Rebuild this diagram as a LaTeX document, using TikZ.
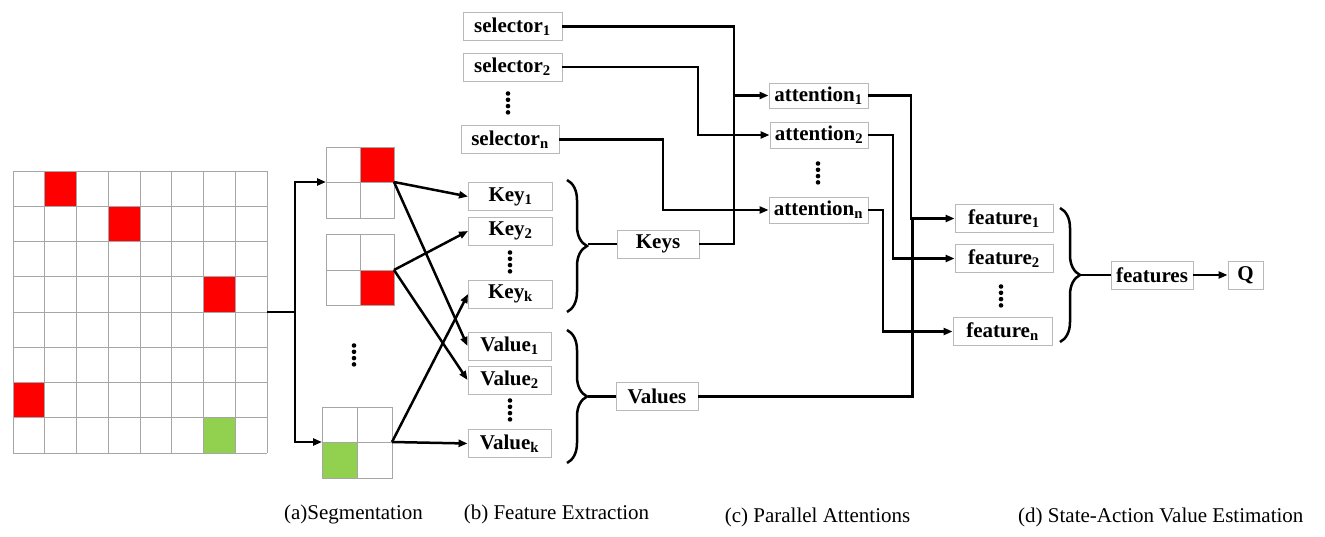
\documentclass[tikz,border=0pt]{standalone}
\usepackage{fontspec}
\setmainfont{Liberation Serif}
\usetikzlibrary{arrows.meta,decorations.pathreplacing}
\definecolor{lgreen}{HTML}{92D050}
\begin{document}
\begin{tikzpicture}[x=1pt,y=-1pt,
 box/.style={draw=gray!55, line width=0.9pt, inner sep=0pt, minimum height=28pt, font=\fontsize{21}{21}\selectfont\bfseries},
 wire/.style={line width=2.5pt, -{Triangle[length=9pt,width=7pt]}},
 plain/.style={line width=2.5pt},
 cell/.style={draw=gray!70, line width=0.6pt},
 brc/.style={decorate, decoration={brace, amplitude=20pt, aspect=0.5}, line width=2.5pt},
 lab/.style={font=\fontsize{21}{24}\selectfont, inner sep=0pt},
 fourdots/.pic={\foreach \k in {0,1,2,3} \fill (0,\k*6.3-9.5) circle (2.3pt);}
]
\useasboundingbox (0,0) rectangle (1325,537);

% ---- grid ----
\foreach \c/\r in {1/0,3/1,6/3,0/6}
  \fill[red] (13+\c*31.75,171+\r*35.25) rectangle ++(31.75,35.25);
\fill[lgreen] (13+6*31.75,171+7*35.25) rectangle ++(31.75,35.25);
\foreach \i in {0,...,8}{
  \draw[cell] (13+\i*31.75,171) -- (13+\i*31.75,453);
  \draw[cell] (13,171+\i*35.25) -- (267,171+\i*35.25);
}

% ---- segments ----
\fill[red] (360,147) rectangle (394,182);
\draw[cell] (326,147) rectangle (394,218) (360,147)--(360,218) (326,182)--(394,182);
\fill[red] (360,270) rectangle (394,305);
\draw[cell] (326,234) rectangle (394,305) (360,234)--(360,305) (326,270)--(394,270);
\fill[lgreen] (322,442) rectangle (357,478);
\draw[cell] (322,407) rectangle (392,478) (357,407)--(357,478) (322,442)--(392,442);
\pic at (354,355) {fourdots};

\coordinate (gridE) at (267,312);
\coordinate (split) at (295,312);
\coordinate (b1W) at (326,182);
\coordinate (b1E) at (394,182);
\coordinate (b2E) at (394,270);
\coordinate (b3W) at (322,442);
\coordinate (b3E) at (392,442);

% ---- nodes ----
\node[box, minimum width=99pt] (sel1) at (512.5,26.5) {selector\textsubscript{1}};
\node[box, minimum width=99pt] (sel2) at (512.5,67) {selector\textsubscript{2}};
\node[box, minimum width=98pt] (seln) at (510,139.5) {selector\textsubscript{n}};
\pic at (508,103) {fourdots};

\node[box, minimum width=84pt] (key1) at (510.5,196.5) {Key\textsubscript{1}};
\node[box, minimum width=84pt] (key2) at (510.5,231) {Key\textsubscript{2}};
\node[box, minimum width=84pt] (keyk) at (510.5,294) {Key\textsubscript{k}};
\pic at (510,262) {fourdots};

\node[box, minimum width=83pt] (val1) at (509.5,346) {Value\textsubscript{1}};
\node[box, minimum width=83pt] (val2) at (509.5,380) {Value\textsubscript{2}};
\node[box, minimum width=83pt] (valk) at (509.5,443.5) {Value\textsubscript{k}};
\pic at (510,410) {fourdots};

\node[box, minimum width=82pt] (keys) at (658,244) {Keys};
\node[box, minimum width=82pt] (values) at (657,396.5) {Values};

\node[box, minimum width=99pt, minimum height=25pt] (att1) at (818.5,95.5) {attention\textsubscript{1}};
\node[box, minimum width=98pt, minimum height=26pt] (att2) at (819,135) {attention\textsubscript{2}};
\node[box, minimum width=99pt, minimum height=26pt] (attn) at (818.5,210) {attention\textsubscript{n}};
\pic at (818,173) {fourdots};

\node[box, minimum width=98pt] (feat1) at (1004,218.5) {feature\textsubscript{1}};
\node[box, minimum width=98pt] (feat2) at (1004,258.5) {feature\textsubscript{2}};
\node[box, minimum width=99pt] (featn) at (1002.5,331.5) {feature\textsubscript{n}};
\pic at (1001,296) {fourdots};

\node[box, minimum width=82pt] (features) at (1152,275) {features};
\node[box, minimum width=35pt] (q) at (1245.5,275) {Q};

% ---- segmentation wiring ----
\draw[plain] (gridE) -- (split);
\draw[wire] (split) |- (b1W);
\draw[wire] (split) |- (b3W);
\draw[wire] (b1E) -- (key1.west);
\draw[wire] (b1E) -- (val1.west);
\draw[wire] (b2E) -- (key2.west);
\draw[wire] (b2E) -- (val2.west);
\draw[wire] (b3E) -- (keyk.west);
\draw[wire] (b3E) -- (valk.west);

% ---- braces ----
\draw[brc] (567,180) -- (567,312);
\coordinate (ktip) at (588,244);
\draw[plain] (ktip) -- (keys.west);
\draw[brc] (567,330) -- (567,463);
\coordinate (vtip) at (588,396.5);
\draw[plain] (vtip) -- (values.west);
\draw[brc] (1060,208) -- (1060,342);
\coordinate (ftip) at (1081,275);
\draw[plain] (ftip) -- (features.west);

% ---- attention wiring ----
\draw[wire] (sel1.east) -| (734,95.5) -- (att1.west);
\draw[plain] (keys.east) -| (734,95.5);
\draw[wire] (sel2.east) -| (698,135) -- (att2.west);
\draw[wire] (seln.east) -| (663,210) -- (attn.west);

% ---- feature wiring ----
\draw[wire] (att1.east) -| (911,218.5) -- (feat1.west);
\draw[wire] (att2.east) -| (893,258.5) -- (feat2.west);
\draw[wire] (attn.east) -| (883,331.5) -- (featn.west);
\draw[line width=3.2pt] (values.east) -| (912.5,218.5);
\draw[wire] (features.east) -- (q.west);

% ---- captions ----
\node[lab] (la) at (353.5,514) {(a)Segmentation};
\node[lab] (lb) at (556.5,514) {(b) Feature Extraction};
\node[lab] (lc) at (817.5,517) {(c) Parallel Attentions};
\node[lab, anchor=west] (ld) at (1018,517) {(d) State-Action Value Estimation};
\end{tikzpicture}
\end{document}
